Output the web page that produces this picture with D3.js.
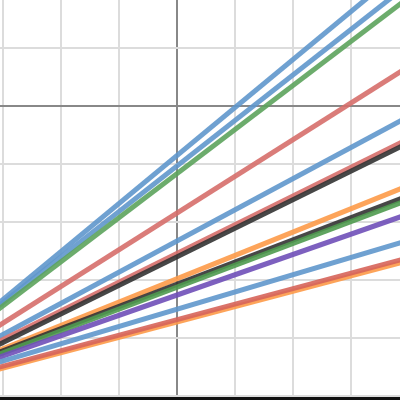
<!DOCTYPE html>
<html>
<head>
<meta charset="utf-8">
<script src="https://cdn.jsdelivr.net/npm/d3@7"></script>
<style>
  html, body { margin: 0; padding: 0; background: #fff; }
  svg { display: block; }
</style>
</head>
<body>
<div id="chart"></div>
<script>
// lines y = intercept + slope * x
const lineNames = ['blueA', 'blueB', 'green', 'red1', 'blueC', 'red2', 'black', 'orange', 'black2', 'green2', 'purple', 'blueD', 'orange2', 'red3'];
const intercepts = [-0.853, -1.034, -1.164, -1.845, -2.326, -2.541, -2.60, -2.979, -3.074, -3.124, -3.259, -3.505, -3.726, -3.684];
const slopes = [0.8275, 0.785, 0.76, 0.6325, 0.5375, 0.495, 0.4925, 0.4025, 0.3825, 0.3775, 0.35, 0.2975, 0.265, 0.2675];
const lineColors = ['#5f97cc', '#5f97cc', '#5ca35c', '#d66e6a', '#5f97cc', '#d66e6a', '#333333', '#fd9a48', '#333333', '#4f9a4f', '#6f4fb8', '#5f97cc', '#fd9a48', '#d6645a'];
const xTicks = [-3, -2, -1, 0, 1, 2, 3];
const yTicks = [-5, -4, -3, -2, -1, 0, 1];

const width = 400, height = 400;

const svg = d3.select('#chart').append('svg')
    .attr('width', width)
    .attr('height', height);

const x = d3.scaleLinear().domain([-3.052, 3.845]).range([0, width]);
const y = d3.scaleLinear().domain([1.828, -5.069]).range([0, height]);

// grid
svg.append('g').selectAll('line')
    .data(xTicks)
    .join('line')
    .attr('x1', d => x(d)).attr('x2', d => x(d))
    .attr('y1', 0).attr('y2', height)
    .attr('stroke', d => d === 0 ? '#888' : '#dcdcdc')
    .attr('stroke-width', 2);

svg.append('g').selectAll('line')
    .data(yTicks)
    .join('line')
    .attr('y1', d => y(d)).attr('y2', d => y(d))
    .attr('x1', 0).attr('x2', width)
    .attr('stroke', d => d === 0 ? '#888' : '#dcdcdc')
    .attr('stroke-width', 2);

// lines
const xs = [-3.2, 4.0];
const line = d3.line().x(d => x(d[0])).y(d => y(d[1]));

svg.append('g').selectAll('path')
    .data(lineNames.map((n, i) => ({ name: n, a: intercepts[i], b: slopes[i], c: lineColors[i] })))
    .join('path')
    .attr('d', d => line(xs.map(v => [v, d.a + d.b * v])))
    .attr('fill', 'none')
    .attr('stroke', d => d.c)
    .attr('stroke-width', 5)
    .attr('stroke-opacity', 0.9);

// bottom spine
svg.append('line')
    .attr('x1', 0).attr('x2', width)
    .attr('y1', 398.5).attr('y2', 398.5)
    .attr('stroke', '#111')
    .attr('stroke-width', 3);
</script>
</body>
</html>
